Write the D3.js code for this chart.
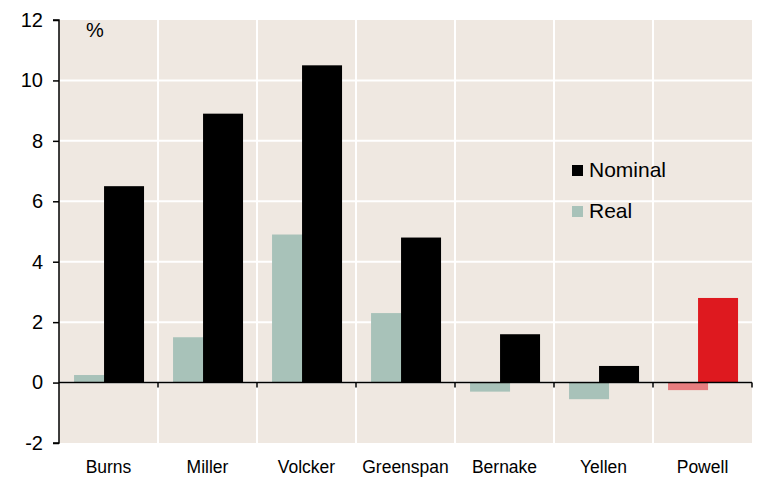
<!DOCTYPE html>
<html><head><meta charset="utf-8">
<script src="https://cdn.jsdelivr.net/npm/d3@7"></script>
<style>body{margin:0;background:#fff}svg{display:block;font-family:"Liberation Sans",Arial,sans-serif}</style>
</head><body><svg id="c" width="761" height="477"></svg>
<script>
const categories = ["Burns","Miller","Volcker","Greenspan","Bernake","Yellen","Powell"];
const nominal = [6.5, 8.9, 10.5, 4.8, 1.6, 0.55, 2.8];
const real = [0.25, 1.5, 4.9, 2.3, -0.3, -0.55, -0.25];
const yTicks = [-2, 0, 2, 4, 6, 8, 10, 12];

const svg = d3.select("#c");
const L = 59, R = 752, T = 20, B = 443;
const bg = "#EFE8E1";
const x = d3.scaleBand().domain(categories).range([L, R]).padding(0);
const y = d3.scaleLinear().domain([-2, 12]).range([B, T]);
const bw = x.bandwidth();

svg.append("rect").attr("x", L).attr("y", T).attr("width", R - L).attr("height", B - T).attr("fill", bg);

// gridlines
svg.append("g").selectAll("line").data(yTicks.filter(d => d > -2 && d < 12)).join("line")
  .attr("x1", L).attr("x2", R).attr("y1", d => y(d)).attr("y2", d => y(d))
  .attr("stroke", "#fff").attr("stroke-width", 2);
svg.append("g").selectAll("line").data(categories.slice(1)).join("line")
  .attr("x1", d => x(d)).attr("x2", d => x(d)).attr("y1", T).attr("y2", B)
  .attr("stroke", "#fff").attr("stroke-width", 2);

// bars
const g = svg.append("g");
g.selectAll("rect.real").data(categories).join("rect").attr("class", "real")
  .attr("x", d => x(d) + bw * 0.152).attr("width", bw * 0.404)
  .attr("y", (d, i) => y(Math.max(0, real[i])))
  .attr("height", (d, i) => Math.abs(y(real[i]) - y(0)))
  .attr("fill", d => d === "Powell" ? "#E77D7F" : "#A8C2B9");
g.selectAll("rect.nom").data(categories).join("rect").attr("class", "nom")
  .attr("x", d => x(d) + bw * 0.455).attr("width", bw * 0.404)
  .attr("y", (d, i) => y(Math.max(0, nominal[i])))
  .attr("height", (d, i) => Math.abs(y(nominal[i]) - y(0)))
  .attr("fill", d => d === "Powell" ? "#DE191F" : "#000");

// y axis
const ya = svg.append("g").attr("transform", `translate(${L},0)`)
  .call(d3.axisLeft(y).tickValues(yTicks).tickSize(6).tickPadding(10).tickFormat(d => String(d)));
ya.select(".domain").attr("stroke", "#000").attr("stroke-width", 1.5).attr("d", `M-6,${T}H0V${B}H-6`);
ya.selectAll(".tick line").attr("stroke", "#000").attr("stroke-width", 1.5);
ya.selectAll(".tick text").attr("font-size", 20).attr("fill", "#000").attr("font-family", "Liberation Sans, Arial, sans-serif");

// zero axis with boundary ticks
const za = svg.append("g").attr("transform", `translate(0,${y(0)})`);
za.append("line").attr("x1", L).attr("x2", R).attr("stroke", "#000").attr("stroke-width", 1.5);
za.selectAll("line.t").data(categories.slice(1).map(c => x(c)).concat([R])).join("line").attr("class", "t")
  .attr("x1", d => d).attr("x2", d => d).attr("y1", 0).attr("y2", 5).attr("stroke", "#000").attr("stroke-width", 1.5);

// category labels
svg.append("g").selectAll("text").data(categories).join("text")
  .attr("x", d => x(d) + bw / 2).attr("y", 473).attr("text-anchor", "middle")
  .attr("font-size", 17.5).attr("fill", "#000").text(d => d);

// unit label
svg.append("text").attr("x", 86).attr("y", 37).attr("font-size", 20).text("%");

// legend
const legend = [["Nominal", "#000"], ["Real", "#A8C2B9"]];
const lg = svg.append("g").selectAll("g").data(legend).join("g")
  .attr("transform", (d, i) => `translate(572,${165 + i * 41})`);
lg.append("rect").attr("width", 11).attr("height", 11).attr("fill", d => d[1]);
lg.append("text").attr("x", 17).attr("y", 12).attr("font-size", 21).text(d => d[0]);
</script></body></html>
